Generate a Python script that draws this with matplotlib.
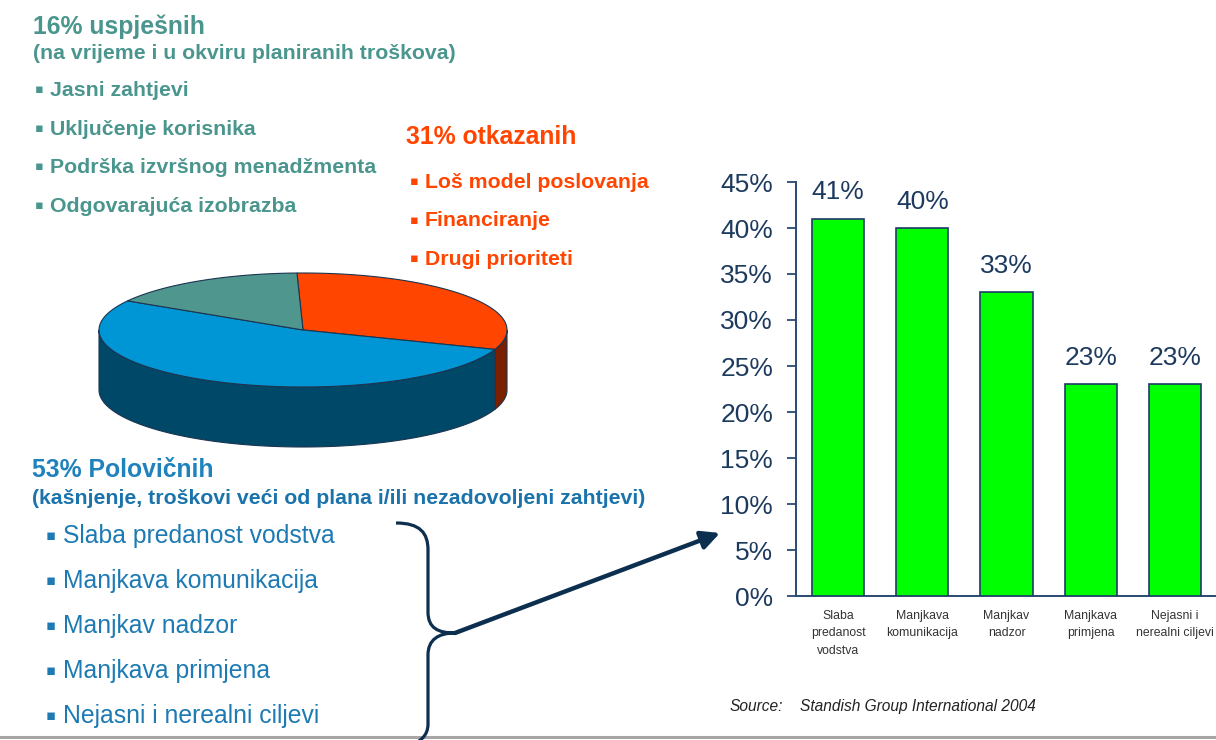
import matplotlib
matplotlib.use('Agg')
import matplotlib.pyplot as plt
import numpy as np
from matplotlib.patches import Polygon, PathPatch
from matplotlib.path import Path

# ---------------- data ----------------
pie_labels = ['otkazani', 'polovični', 'uspješni']
pie_shares = [31, 53, 16]
pie_top_colors = ['#ff4500', '#0096d6', '#4f968e']
pie_side_colors = ['#7a2000', '#004868', '#2e5e58']

bar_categories = ['Slaba\npredanost\nvodstva', 'Manjkava\nkomunikacija', 'Manjkav\nnadzor',
                  'Manjkava\nprimjena', 'Nejasni i\nnerealni ciljevi']
bar_values = [41, 40, 33, 23, 23]
y_ticks = [0, 5, 10, 15, 20, 25, 30, 35, 40, 45]
y_tick_labels = [f'{v}%' for v in y_ticks]

success_title = '16% uspješnih'
success_sub = '(na vrijeme i u okviru planiranih troškova)'
success_items = ['Jasni zahtjevi', 'Uključenje korisnika', 'Podrška izvršnog menadžmenta',
                 'Odgovarajuća izobrazba']
cancel_title = '31% otkazanih'
cancel_items = ['Loš model poslovanja', 'Financiranje', 'Drugi prioriteti']
partial_title = '53% Polovičnih'
partial_sub = '(kašnjenje, troškovi veći od plana i/ili nezadovoljeni zahtjevi)'
partial_items = ['Slaba predanost vodstva', 'Manjkava komunikacija', 'Manjkav nadzor',
                 'Manjkava primjena', 'Nejasni i nerealni ciljevi']
source_label = 'Source:'
source_text = 'Standish Group International 2004'

# ---------------- figure ----------------
W, H = 1216, 740
plt.rcParams['font.family'] = ['Liberation Sans', 'DejaVu Sans']
fig = plt.figure(figsize=(W / 100, H / 100), dpi=100)
fig.patch.set_facecolor('white')

ov = fig.add_axes([0, 0, 1, 1])
ov.set_xlim(0, W)
ov.set_ylim(H, 0)
ov.axis('off')

TEAL = '#4a968e'
ORANGE = '#ff4500'
BLUE_H = '#1f82bc'
BLUE_S = '#1a73ab'
BLUE_B = '#1d7ab3'
NAVY = '#1c3a5e'
DARK = '#0d2f4f'
BUL = ['DejaVu Sans']

def bullet(x_b, x_t, y, s, color, size, weight):
    ov.text(x_b, y - 0.42 * size, '\u25aa', family=BUL, fontsize=size * 0.6, color=color,
            va='center', ha='left')
    ov.text(x_t, y, s, fontsize=size, color=color, fontweight=weight, va='baseline', ha='left')

# success block
ov.text(33, 34, success_title, fontsize=17.8, fontweight='bold', color=TEAL, va='baseline')
ov.text(33, 59, success_sub, fontsize=15.3, fontweight='bold', color=TEAL, va='baseline')
for i, s in enumerate(success_items):
    bullet(35, 50, 96 + i * 38.7, s, TEAL, 15.3, 'bold')

# cancelled block
ov.text(406, 144, cancel_title, fontsize=17.8, fontweight='bold', color=ORANGE, va='baseline')
for i, s in enumerate(cancel_items):
    bullet(410, 425, 188 + i * 38.5, s, ORANGE, 15.3, 'bold')

# partial block
ov.text(32, 477, partial_title, fontsize=17.8, fontweight='bold', color=BLUE_H, va='baseline')
ov.text(32, 504, partial_sub, fontsize=15.3, fontweight='bold', color=BLUE_S, va='baseline')
for i, s in enumerate(partial_items):
    bullet(46, 63, 543 + i * 45, s, BLUE_B, 17.8, 'normal')

# ---------------- 3D pie ----------------
cx, cy, ra, rb, depth = 303, 330, 204, 57, 60
start = 91.7
EDGE = '#1b3550'

def ell(t_deg, dy=0.0):
    t = np.radians(t_deg)
    return np.column_stack([cx + ra * np.cos(t), cy - rb * np.sin(t) + dy])

cum = 0.0
for share, ctop, cside in zip(pie_shares, pie_top_colors, pie_side_colors):
    t0 = start - cum
    t1 = start - cum - share * 3.6
    cum += share * 3.6
    # visible side: sin(t) < 0 -> t in (-180, 0) + k*360
    for k in (-1, 0, 1):
        lo, hi = -180 + 360 * k, 0 + 360 * k
        u0, u1 = max(t1, lo), min(t0, hi)
        if u1 > u0:
            ts = np.linspace(u1, u0, 80)
            topp = ell(ts)
            botp = ell(ts[::-1], depth)
            ov.add_patch(Polygon(np.vstack([topp, botp]), closed=True, facecolor=cside,
                                 edgecolor=EDGE, lw=0.8, zorder=2))
    ts = np.linspace(t0, t1, 150)
    pts = np.vstack([[cx, cy], ell(ts)])
    ov.add_patch(Polygon(pts, closed=True, facecolor=ctop, edgecolor=EDGE, lw=0.8, zorder=3))

# ---------------- brace and arrow ----------------
verts = [(396, 523), (420, 523), (428, 533), (428, 550),
         (428, 612),
         (428, 628), (438, 633), (455, 633),
         (438, 633), (428, 640), (428, 655),
         (428, 724),
         (428, 736), (420, 741), (412, 745)]
codes = [Path.MOVETO, Path.CURVE4, Path.CURVE4, Path.CURVE4,
         Path.LINETO,
         Path.CURVE4, Path.CURVE4, Path.CURVE4,
         Path.CURVE4, Path.CURVE4, Path.CURVE4,
         Path.LINETO,
         Path.CURVE4, Path.CURVE4, Path.CURVE4]
ov.add_patch(PathPatch(Path(verts, codes), facecolor='none', edgecolor=DARK, lw=2.3, zorder=4))
ov.annotate('', xy=(720, 533), xytext=(455, 633),
            arrowprops=dict(arrowstyle='-|>,head_length=1.1,head_width=0.55', lw=3.2,
                            color=DARK, shrinkA=0, shrinkB=0), zorder=5)

# bottom rule
ov.plot([0, W], [737, 737], color='#a6a6a6', lw=2.2, zorder=1)

# source
ov.text(730, 711, source_label, fontsize=11.2, style='italic', color='#222222', va='baseline')
ov.text(800, 711, source_text, fontsize=11.2, style='italic', color='#222222', va='baseline')

# ---------------- bar chart ----------------
ax = fig.add_axes([796 / W, 1 - 596 / H, (W - 796 + 1) / W, (596 - 182) / H])
ax.set_facecolor('none')
x = np.arange(len(bar_values))
ax.bar(x, bar_values, width=0.62, color='#00ff00', edgecolor='#1f3a68', linewidth=1.2, zorder=3)
ax.set_xlim(-0.5, len(bar_values) - 0.5)
ax.set_ylim(0, 45)
ax.set_yticks(y_ticks)
ax.set_yticklabels(y_tick_labels)
ax.set_xticks(x)
ax.set_xticklabels(bar_categories, linespacing=1.6)
ax.tick_params(axis='y', length=6.5, width=1.3, color='#2a4a70', pad=10, labelsize=19,
               labelcolor=NAVY)
ax.tick_params(axis='x', length=0, pad=10, labelsize=8.8, labelcolor='#333333')
for sp in ('top', 'right'):
    ax.spines[sp].set_visible(False)
for sp in ('left', 'bottom'):
    ax.spines[sp].set_color('#2a4a70')
    ax.spines[sp].set_linewidth(1.4)
for xi, v in zip(x, bar_values):
    ax.annotate(f'{v}%', (xi, v), xytext=(0, 14), textcoords='offset points', ha='center',
                va='baseline', fontsize=19, color=NAVY)

fig.savefig('out.png', dpi=100)
